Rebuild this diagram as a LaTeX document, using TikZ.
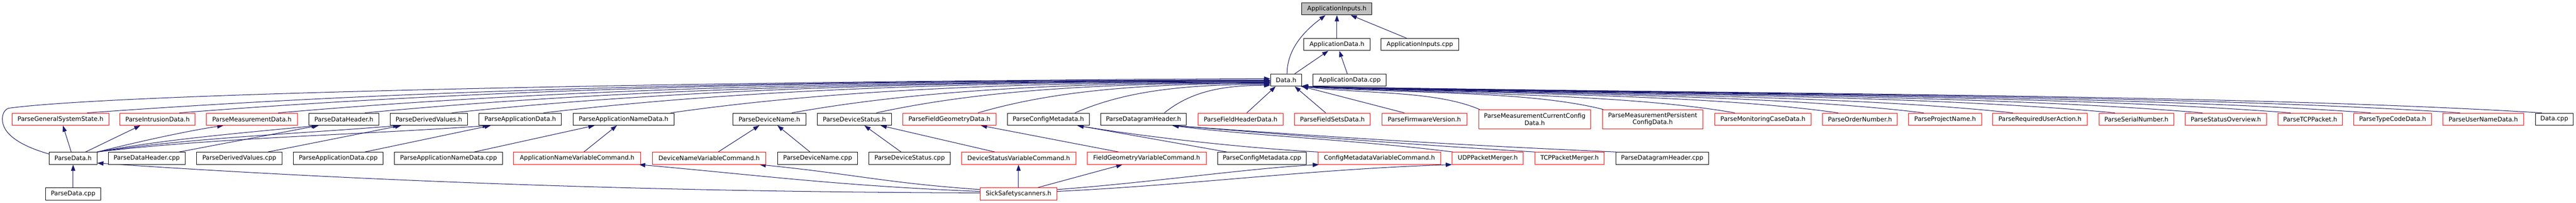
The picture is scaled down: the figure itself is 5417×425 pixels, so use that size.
\documentclass[tikz,border=0pt]{standalone}
\usepackage{fontspec}
\setmainfont{DejaVu Sans}
\usetikzlibrary{arrows.meta,calc,backgrounds}
\definecolor{edgeblue}{HTML}{191970}
\definecolor{rootgray}{HTML}{BFBFBF}
\definecolor{boxred}{HTML}{FF0000}
\tikzset{
  box/.style={draw=black, line width=1pt, fill=white, minimum height=25.5pt, inner sep=0pt,
    font=\fontsize{12.9}{15}\selectfont, text=black, align=center},
  redbox/.style={box, draw=boxred},
  rootbox/.style={box, fill=rootgray},
  tallbox/.style={redbox, minimum height=40pt},
  edge/.style={draw=edgeblue, line width=1.1pt, -{Triangle[length=13pt,width=9pt]}},
}
% left-side edge into Data.h
\newcommand{\DEdgeL}[4]{\draw[edge] ([xshift=#2pt]#1.north) .. controls +(#4*0.25,-45) and +(-#4*0.45,0) .. ([yshift=#3pt]datah.west);}
% right-side edge into Data.h
\newcommand{\DEdgeR}[4]{\draw[edge] ([xshift=#2pt]#1.north) .. controls +(-#4*0.25,-40) and +(#4*0.35,16) .. ([xshift=#3pt]datah.south east);}
\begin{document}
\begin{tikzpicture}[x=1pt,y=-1pt]
\useasboundingbox (0,0) rectangle (5417,425);
% row 0-2
\node[rootbox, minimum width=147.3pt] (ainh) at (2811.3,18.5) {ApplicationInputs.h};
\node[box, minimum width=139pt] (adh) at (2811.3,93.3) {ApplicationData.h};
\node[box, minimum width=163pt] (aicpp) at (2985.8,93.3) {ApplicationInputs.cpp};
\node[box, minimum width=65.6pt] (datah) at (2704.5,168) {Data.h};
\node[box, minimum width=153.7pt] (adcpp) at (2838.2,168) {ApplicationData.cpp};
% row 3
\node[redbox, minimum width=203pt] (pgss) at (127.2,250) {ParseGeneralSystemState.h};
\node[redbox, minimum width=157.7pt] (pid) at (331.2,250) {ParseIntrusionData.h};
\node[redbox, minimum width=191pt] (pmd) at (529.8,250) {ParseMeasurementData.h};
\node[box, minimum width=147pt] (pdh) at (723.2,250) {ParseDataHeader.h};
\node[box, minimum width=163pt] (pdv) at (901.8,250) {ParseDerivedValues.h};
\node[box, minimum width=173.4pt] (pad) at (1094,250) {ParseApplicationData.h};
\node[box, minimum width=212.3pt] (pand) at (1311.2,250) {ParseApplicationNameData.h};
\node[box, minimum width=153.7pt] (pdn) at (1617.8,250) {ParseDeviceName.h};
\node[box, minimum width=155.3pt] (pds) at (1796.7,250) {ParseDeviceStatus.h};
\node[redbox, minimum width=196.4pt] (pfgd) at (1996.5,250) {ParseFieldGeometryData.h};
\node[box, minimum width=172.4pt] (pcm) at (2204.5,250) {ParseConfigMetadata.h};
\node[box, minimum width=180.4pt] (pdgh) at (2404.5,250) {ParseDatagramHeader.h};
\node[redbox, minimum width=179pt] (pfhd) at (2608.8,250) {ParseFieldHeaderData.h};
\node[redbox, minimum width=159pt] (pfsd) at (2801.8,250) {ParseFieldSetsData.h};
\node[redbox, minimum width=179pt] (pfv) at (2995.2,250) {ParseFirmwareVersion.h};
\node[tallbox, minimum width=236pt] (pmccd) at (3227.3,250) {ParseMeasurementCurrentConfig\\Data.h};
\node[tallbox, minimum width=212pt] (pmpcd) at (3475.3,250) {ParseMeasurementPersistent\\ConfigData.h};
\node[redbox, minimum width=203pt] (pmcd) at (3707.2,250) {ParseMonitoringCaseData.h};
\node[redbox, minimum width=156.7pt] (pon) at (3911.3,250) {ParseOrderNumber.h};
\node[redbox, minimum width=153.7pt] (ppn) at (4090.2,250) {ParseProjectName.h};
\node[redbox, minimum width=199pt] (prua) at (4289.8,250) {ParseRequiredUserAction.h};
\node[redbox, minimum width=157.6pt] (psn) at (4492.5,250) {ParseSerialNumber.h};
\node[redbox, minimum width=171.3pt] (pso) at (4680.7,250) {ParseStatusOverview.h};
\node[redbox, minimum width=135.4pt] (ptcp) at (4858,250) {ParseTCPPacket.h};
\node[redbox, minimum width=163.3pt] (ptcd) at (5031.3,250) {ParseTypeCodeData.h};
\node[redbox, minimum width=170pt] (pund) at (5222,250) {ParseUserNameData.h};
\node[box, minimum width=80pt] (dcpp) at (5371.3,250) {Data.cpp};
% row 4
\node[box, minimum width=100.3pt] (pdatah) at (153.8,332) {ParseData.h};
\node[box, minimum width=161.6pt] (pdhcpp) at (308.5,332) {ParseDataHeader.cpp};
\node[box, minimum width=179pt] (pdvcpp) at (503.2,332) {ParseDerivedValues.cpp};
\node[box, minimum width=188.3pt] (padcpp) at (711.2,332) {ParseApplicationData.cpp};
\node[box, minimum width=227pt] (pandcpp) at (943.2,332) {ParseApplicationNameData.cpp};
\node[redbox, minimum width=267.3pt] (anvc) at (1213.7,332) {ApplicationNameVariableCommand.h};
\node[redbox, minimum width=239pt] (dnvc) at (1491.2,332) {DeviceNameVariableCommand.h};
\node[box, minimum width=168pt] (pdncpp) at (1719.3,332) {ParseDeviceName.cpp};
\node[box, minimum width=171pt] (pdscpp) at (1912.8,332) {ParseDeviceStatus.cpp};
\node[redbox, minimum width=240.3pt] (dsvc) at (2142.2,332) {DeviceStatusVariableCommand.h};
\node[redbox, minimum width=250.7pt] (fgvc) at (2411.3,332) {FieldGeometryVariableCommand.h};
\node[box, minimum width=187pt] (pcmcpp) at (2653.8,332) {ParseConfigMetadata.cpp};
\node[redbox, minimum width=257.3pt] (cmvc) at (2900.7,332) {ConfigMetadataVariableCommand.h};
\node[redbox, minimum width=149.6pt] (udp) at (3128.5,332) {UDPPacketMerger.h};
\node[redbox, minimum width=145.6pt] (tcp) at (3300.5,332) {TCPPacketMerger.h};
\node[box, minimum width=194.7pt] (pdghcpp) at (3495.3,332) {ParseDatagramHeader.cpp};
% row 5
\node[box, minimum width=115pt] (pdatacpp) at (153.8,406.5) {ParseData.cpp};
\node[redbox, minimum width=161.7pt] (sick) at (2141.8,406.5) {SickSafetyscanners.h};

\begin{scope}[on background layer]
\fill[white] (0,0) rectangle (5417,425);
% top edges
\draw[edge] (adh) -- (ainh);
\draw[edge] ([xshift=-28pt]aicpp.north) -- ([xshift=29pt]ainh.south);
\draw[edge] ([xshift=2pt]datah.north) .. controls +(0,-55) and +(-40,30) .. ([xshift=-24pt]ainh.south);
\draw[edge] ([xshift=18pt]datah.north) -- ([xshift=-18pt]adh.south);
\draw[edge] ([xshift=-5pt]adcpp.north) -- ([xshift=5pt]adh.south);

% row 3 -> Data.h (left)
\DEdgeL{pgss}{56}{0}{2489}
\DEdgeL{pid}{46}{0}{2295}
\DEdgeL{pmd}{55}{-1}{2087}
\DEdgeL{pdh}{44}{-2}{1905}
\DEdgeL{pdv}{48}{-2}{1722}
\DEdgeL{pad}{49}{-3}{1529}
\DEdgeL{pand}{99}{-4}{1262}
\DEdgeL{pdn}{47}{-5}{1007}
\DEdgeL{pds}{46}{-6}{829}
\DEdgeL{pfgd}{60}{-7}{615}
\DEdgeL{pcm}{56}{-9}{412}
\DEdgeL{pdgh}{44}{-11}{224}
\draw[edge] ([xshift=13pt]pfhd.north) -- ([xshift=-22pt]datah.south);
% row 3 -> Data.h (right)
\draw[edge] ([xshift=-14pt]pfsd.north) -- ([xshift=18pt]datah.south);
\draw[edge] ([xshift=-42pt]pfv.north) -- (datah.south east);
\DEdgeR{pmccd}{-116}{0}{373}
\DEdgeR{pmpcd}{-104}{0}{634}
\DEdgeR{pmcd}{-59}{0}{911}
\DEdgeR{pon}{-46}{0}{1128}
\DEdgeR{ppn}{-45}{0}{1308}
\DEdgeR{prua}{-57}{-1}{1496}
\DEdgeR{psn}{-45}{-1}{1710}
\DEdgeR{pso}{-49}{-1}{1895}
\DEdgeR{ptcp}{-41}{-1}{2080}
\DEdgeR{ptcd}{-46}{-2}{2248}
\DEdgeR{pund}{-49}{-2}{2436}
\DEdgeR{dcpp}{-26}{-2}{2608}

% ParseData.h -> Data.h loop
\draw[edge] ([yshift=9pt]pdatah.west) .. controls (40,305) and (5,280) .. (5,250)
  .. controls (5,238) and (10,230) .. (18,227)
  .. controls (250,195) and (1500,170) .. ([yshift=3pt]datah.west);

% ParseData.h -> row 3
\draw[edge] (pdatacpp) -- (pdatah);
\draw[edge] ([xshift=-4pt]pdatah.north) -- ([xshift=5pt]pgss.south);
\draw[edge] ([xshift=26pt]pdatah.north) -- ([xshift=-36pt]pid.south);
\draw[edge] (pdatah.north east) .. controls +(80,-20) and +(-80,12) .. ([xshift=-60pt]pmd.south);
\draw[edge] (pdatah.north east) .. controls +(150,-28) and +(-150,15) .. ([xshift=-55pt]pdh.south);
\draw[edge] (pdatah.north east) .. controls +(200,-30) and +(-220,18) .. ([xshift=-62pt]pdv.south);
\draw[edge] (pdatah.north east) .. controls +(250,-30) and +(-280,20) .. ([xshift=-66pt]pad.south);

% row 4 -> row 3
\draw[edge] ([xshift=68pt]pdhcpp.north) -- ([xshift=-53pt]pdh.south);
\draw[edge] ([xshift=60pt]pdvcpp.north) -- ([xshift=-58pt]pdv.south);
\draw[edge] ([xshift=56pt]padcpp.north) -- ([xshift=-62pt]pad.south);
\draw[edge] ([xshift=54pt]pandcpp.north) -- ([xshift=-61pt]pand.south);
\draw[edge] ([xshift=14pt]anvc.north) -- ([xshift=-14pt]pand.south);
\draw[edge] ([xshift=19pt]dnvc.north) -- ([xshift=-21pt]pdn.south);
\draw[edge] ([xshift=-16pt]pdncpp.north) -- ([xshift=17pt]pdn.south);
\draw[edge] ([xshift=-18pt]pdscpp.north) -- ([xshift=21pt]pds.south);
\draw[edge] ([xshift=-50pt]dsvc.north) -- ([xshift=55pt]pds.south);
\draw[edge] ([xshift=-59pt]fgvc.north) -- ([xshift=66pt]pfgd.south);
\draw[edge] ([xshift=-74pt]pcmcpp.north) -- ([xshift=61pt]pcm.south);
\draw[edge] (cmvc.north west) .. controls +(-150,-8) and +(150,25) .. ([xshift=61pt]pcm.south);
\draw[edge] ([xshift=-73pt]udp.north) .. controls +(-200,-25) and +(150,20) .. ([xshift=61pt]pdgh.south);
\draw[edge] ([xshift=-73pt]tcp.north) .. controls +(-300,-18) and +(250,20) .. ([xshift=61pt]pdgh.south);
\draw[edge] ([xshift=-97pt]pdghcpp.north) .. controls +(-350,-15) and +(300,22) .. ([xshift=61pt]pdgh.south);

% SickSafetyscanners.h edges
\draw[edge] ([yshift=2pt]sick.west) .. controls +(-900,-2) and +(300,20) .. ([yshift=-10pt]pdatah.east);
\draw[edge] ([yshift=5pt]sick.west) .. controls +(-300,-12) and +(250,22) .. ([xshift=-4pt]anvc.south east);
\draw[edge] ([yshift=9pt]sick.west) .. controls +(-200,-14) and +(200,20) .. ([xshift=-14pt]dnvc.south east);
\draw[edge] (sick.north) -- (sick.north |- dsvc.south);
\draw[edge] ([xshift=41pt]sick.north) -- ([xshift=-51pt]fgvc.south);
\draw[edge] ([yshift=9pt]sick.east) .. controls +(200,-15) and +(-150,8) .. ([xshift=2pt]cmvc.south west);
\draw[edge] ([yshift=5pt]sick.east) .. controls +(300,-15) and +(-300,10) .. (udp.south west);
\end{scope}
\end{tikzpicture}
\end{document}
